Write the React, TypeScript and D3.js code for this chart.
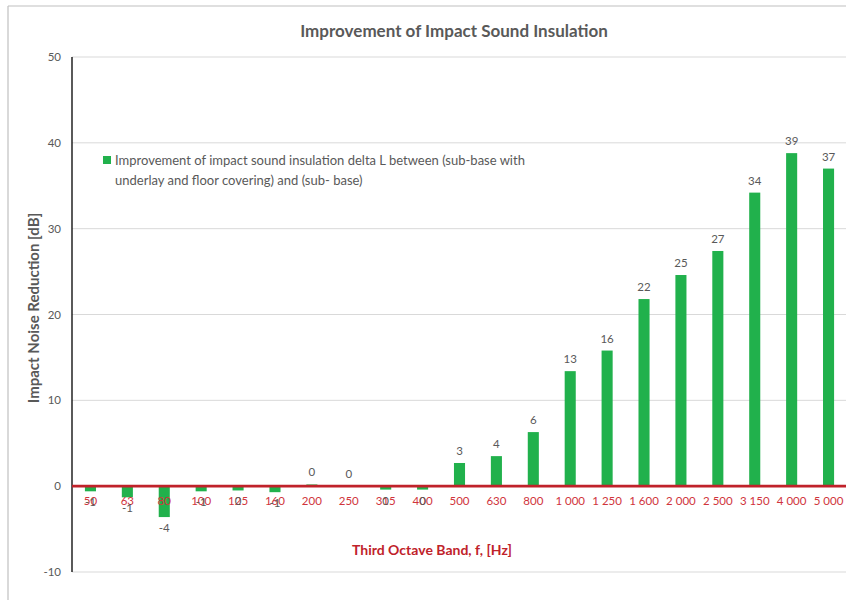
import React from "react";
import * as d3 from "d3";

const categories = ["50", "63", "80", "100", "125", "160", "200", "250", "315", "400", "500", "630", "800", "1 000", "1 250", "1 600", "2 000", "2 500", "3 150", "4 000", "5 000"];
const values = [-0.6, -1.3, -3.6, -0.6, -0.5, -0.7, 0.2, 0.0, -0.4, -0.4, 2.7, 3.5, 6.3, 13.4, 15.8, 21.8, 24.6, 27.4, 34.2, 38.8, 37.0];
const yTicks = [-10, 0, 10, 20, 30, 40, 50];

const title = "Improvement of Impact Sound Insulation";
const legendLines = ["Improvement of impact sound insulation delta L between (sub-base with", "underlay and floor covering) and (sub- base)"];
const xTitle = "Third Octave Band, f, [Hz]";
const yTitle = "Impact Noise Reduction [dB]";

const W = 846;
const H = 600;
const FONT = "Lato, 'Open Sans', sans-serif";

export default function App() {
  const left = 72;
  const right = 847;
  const top = 57;
  const bottom = 572;

  const x = d3.scaleBand<string>().domain(categories).range([left, right]).paddingInner(0.7).paddingOuter(0.35);
  const y = d3.scaleLinear().domain([-10, 50]).range([bottom, top]);
  const bw = x.bandwidth();

  return (
    <svg width={W} height={H} style={{ position: "absolute", left: 0, top: 0, background: "#fff" }} fontFamily={FONT}>
      <rect x={0} y={0} width={W} height={H} fill="#fff" />
      {/* frame */}
      <line x1={8} y1={6} x2={W} y2={6} stroke="#c0c0c0" strokeWidth={1.2} />
      <line x1={8} y1={6} x2={8} y2={H} stroke="#c0c0c0" strokeWidth={1.2} />

      <text x={454} y={37} textAnchor="middle" fontSize={17} fontWeight="bold" fill="#595959">{title}</text>

      {/* gridlines */}
      {yTicks.map((t) => (
        <line key={"g" + t} x1={left} x2={right} y1={y(t)} y2={y(t)} stroke="#d9d9d9" strokeWidth={1} />
      ))}
      {yTicks.map((t) => (
        <text key={"t" + t} x={left - 11} y={y(t) + 4} textAnchor="end" fontSize={11.5} fill="#595959">{t}</text>
      ))}

      {/* bars */}
      {values.map((v, i) => {
        const cx = x(categories[i])!;
        const y0 = y(0);
        const yv = y(v);
        return (
          <rect key={"b" + i} x={cx} y={Math.min(y0, yv)} width={bw} height={Math.abs(yv - y0)} fill="#21b14c" />
        );
      })}

      {/* y axis line */}
      <line x1={left} x2={left} y1={top} y2={bottom} stroke="#000" strokeWidth={1.3} />
      {/* zero line */}
      <line x1={left} x2={right} y1={y(0)} y2={y(0)} stroke="#c0222a" strokeWidth={2.6} />

      {/* x tick labels */}
      {categories.map((c) => (
        <text key={"x" + c} x={x(c)! + bw / 2} y={y(0) + 19} textAnchor="middle" fontSize={11.5} fill="#d0343c">{c}</text>
      ))}

      {/* data labels */}
      {values.map((v, i) => {
        const cx = x(categories[i])! + bw / 2;
        const label = String(Math.round(v) === 0 ? 0 : Math.round(v));
        const ly = v >= 0 ? y(v) - 8 : y(v) + 15;
        return (
          <text key={"l" + i} x={cx} y={ly} textAnchor="middle" fontSize={11.5} fill="#595959">{label}</text>
        );
      })}

      {/* legend */}
      <rect x={103} y={156} width={8} height={8} fill="#21b14c" />
      <text x={115} y={165} fontSize={13} fill="#595959">{legendLines[0]}</text>
      <text x={115} y={185} fontSize={13} fill="#595959">{legendLines[1]}</text>

      {/* axis titles */}
      <text x={432} y={555} textAnchor="middle" fontSize={14} fontWeight="bold" fill="#c0222a">{xTitle}</text>
      <text transform={`translate(39, ${308}) rotate(-90)`} textAnchor="middle" fontSize={15} fontWeight="bold" fill="#595959">{yTitle}</text>
    </svg>
  );
}
